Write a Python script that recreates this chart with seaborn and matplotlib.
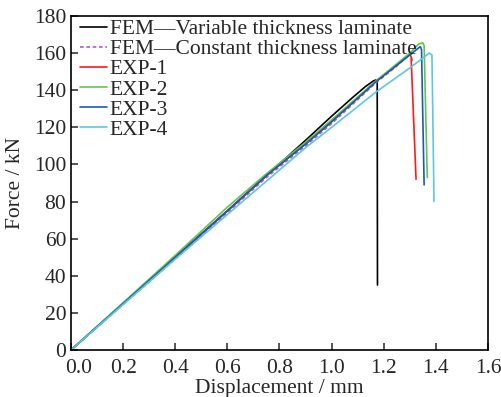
import matplotlib
matplotlib.use("Agg")
import matplotlib.pyplot as plt
import matplotlib.transforms as mtransforms
import seaborn as sns
import pandas as pd

# ---- data ----
fem_var_x = [0, 0.2, 0.4, 0.6, 0.75, 0.9, 1.0, 1.08, 1.13, 1.16, 1.17, 1.175, 1.176]
fem_var_y = [0, 25, 50, 75, 94, 113, 126, 136, 142, 145, 145.5, 144, 35]

fem_const_x = [0, 0.2, 0.4, 0.6, 0.75, 0.9, 1.0, 1.17, 1.25, 1.305, 1.31]
fem_const_y = [0, 24.5, 49, 74, 93, 110, 122, 144, 153, 160, 155]

exp1_x = [0, 0.2, 0.4, 0.6, 0.75, 0.9, 1.0, 1.17, 1.25, 1.30, 1.305, 1.324]
exp1_y = [0, 25, 50, 75, 94, 111, 123, 145, 153.5, 159.5, 158, 92]

exp2_x = [0, 0.2, 0.4, 0.6, 0.75, 0.9, 1.0, 1.17, 1.3, 1.335, 1.35, 1.355, 1.367]
exp2_y = [0, 25.5, 51, 77, 95, 112, 124, 145, 160, 165, 165.5, 164, 93]

exp3_x = [0, 0.2, 0.4, 0.6, 0.75, 0.9, 1.0, 1.17, 1.3, 1.34, 1.345, 1.355]
exp3_y = [0, 25, 50, 75, 94, 111, 123, 144.5, 159, 163.5, 162, 89]

exp4_x = [0, 0.2, 0.4, 0.6, 0.75, 0.9, 1.0, 1.17, 1.3, 1.375, 1.385, 1.393]
exp4_y = [0, 24.5, 49, 73, 91, 109, 120, 139, 152, 160, 159, 80]

labels = ["FEM\u2014Variable thickness laminate",
          "FEM\u2014Constant thickness laminate",
          "EXP-1", "EXP-2", "EXP-3", "EXP-4"]
xticks = [0.0, 0.2, 0.4, 0.6, 0.8, 1.0, 1.2, 1.4, 1.6]
xticklabels = ["0.0", "0.2", "0.4", "0.6", "0.8", "1.0", "1.2", "1.4", "1.6"]
yticks = [0, 20, 40, 60, 80, 100, 120, 140, 160, 180]

xs = [fem_var_x, fem_const_x, exp1_x, exp2_x, exp3_x, exp4_x]
ys = [fem_var_y, fem_const_y, exp1_y, exp2_y, exp3_y, exp4_y]
colors = ["#000000", "#b55cc8", "#ff1a1a", "#5cc84a", "#2156b8", "#5bc8e2"]
styles = ["-", (0, (2.2, 1.6)), "-", "-", "-", "-"]

sns.set_style("white")
plt.rcParams["font.family"] = ["Liberation Serif", "DejaVu Serif"]

FS = 15.5
fig = plt.figure(figsize=(5.01, 3.97), dpi=100)
ax = fig.add_axes([0.1417, 0.1184, 0.974 - 0.1417, 0.9597 - 0.1184])

for x, y, lab, c, ls in zip(xs, ys, labels, colors, styles):
    df = pd.DataFrame({"x": x, "y": y})
    sns.lineplot(data=df, x="x", y="y", ax=ax, sort=False, color=c,
                 linestyle=ls, linewidth=1.2, label=lab, estimator=None)

ax.set_xlim(0, 1.6)
ax.set_ylim(0, 180)
ax.set_xticks(xticks)
ax.set_xticklabels(xticklabels)
ax.set_yticks(yticks)
ax.tick_params(direction="in", length=5, width=1.1, labelsize=FS,
               bottom=True, left=True, top=False, right=False)
ax.tick_params(axis="x", pad=6.5)
ax.tick_params(axis="y", pad=3.5)
for s in ax.spines.values():
    s.set_linewidth(1.2)
    s.set_color("black")
ax.set_xlabel("Displacement / mm", fontsize=FS, labelpad=1)
ax.set_ylabel("Force / kN", fontsize=FS, labelpad=6)

# nudge first x tick label right, as in the reference
first = ax.get_xticklabels()[0]
first.set_transform(first.get_transform() +
                    mtransforms.ScaledTranslation(8 / 100, 0, fig.dpi_scale_trans))

leg = ax.legend(loc="upper left", bbox_to_anchor=(0.014, 1.0), frameon=False,
                fontsize=FS, handlelength=1.25, handletextpad=0.12,
                labelspacing=0.0, borderaxespad=0.1, borderpad=0.05)

fig.savefig("out.png", dpi=100)
